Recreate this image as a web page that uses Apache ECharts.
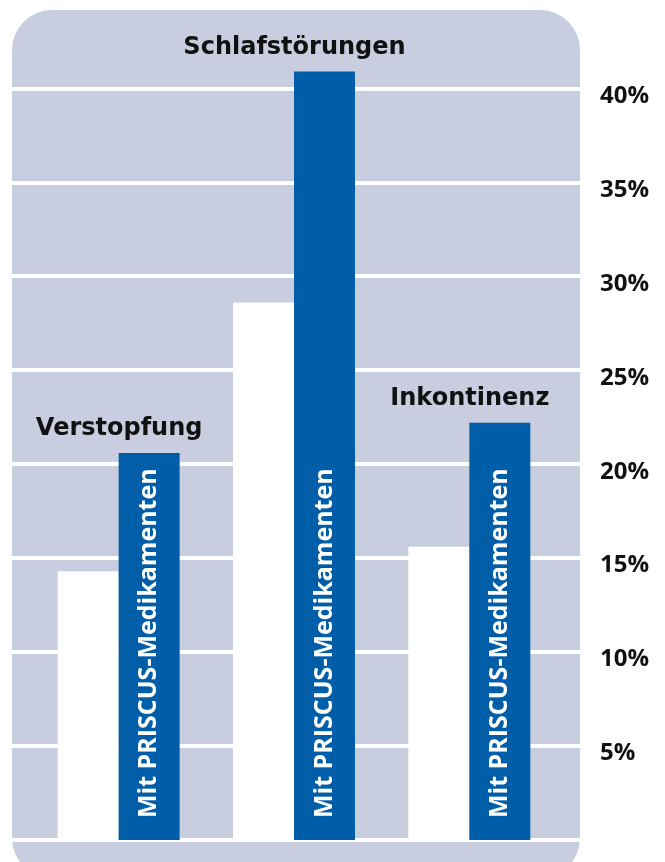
<!DOCTYPE html>
<html>
<head>
<meta charset="utf-8">
<script src="https://cdn.jsdelivr.net/npm/echarts@6/dist/echarts.min.js"></script>
<style>
  html, body { margin: 0; padding: 0; background: #fff; }
  #chart { width: 665px; height: 862px; }
</style>
</head>
<body>
<div id="chart"></div>
<script>
// Werte in Prozent
const categories = ["Verstopfung", "Schlafstörungen", "Inkontinenz"];
const ohnePriscus = [14.3, 28.6, 15.6];
const mitPriscus = [20.6, 40.9, 22.2];
const barText = "Mit PRISCUS-Medikamenten";
const yMax = 44.7;
const yStep = 5;
const lastTick = 40;

const FONT = "'Open Sans', 'Noto Sans', sans-serif";
const TITLE_FONT = "'DejaVu Sans', 'Open Sans', sans-serif";
const PANEL = "#c8cee0";
const BLUE = "#005da8";

const myChart = echarts.init(document.getElementById("chart"));

const option = {
  animation: false,
  backgroundColor: "#fff",
  graphic: [
    {
      type: "rect",
      z: -10,
      shape: { x: 12, y: 10, width: 568, height: 868, r: 40 },
      style: { fill: PANEL }
    }
  ],
  grid: [
    { left: 12, right: 85, top: 0, bottom: 22 },
    { left: 31, right: 108, top: 0, bottom: 22 }
  ],
  xAxis: [
    { gridIndex: 0, type: "value", show: false },
    { gridIndex: 1, type: "category", data: categories, show: false }
  ],
  yAxis: [
    {
      gridIndex: 0,
      type: "value",
      position: "right",
      min: 0,
      max: yMax,
      interval: yStep,
      axisLine: { show: false },
      axisTick: { show: false },
      splitLine: { show: true, showMaxLine: false, lineStyle: { color: "#fff", width: 4 } },
      axisLabel: {
        margin: 20,
        verticalAlign: "top",
        lineHeight: 15,
        fontFamily: FONT,
        fontWeight: "bold",
        fontSize: 24,
        color: "#111",
        formatter: (v) => (v > 0 && v <= lastTick ? v + "%" : "")
      }
    },
    { gridIndex: 1, type: "value", min: 0, max: yMax, show: false }
  ],
  series: [
    {
      name: "Ohne PRISCUS-Medikamente",
      type: "bar",
      xAxisIndex: 1,
      yAxisIndex: 1,
      barWidth: 61,
      barGap: 0,
      data: ohnePriscus,
      itemStyle: { color: "#fff" }
    },
    {
      name: "Mit PRISCUS-Medikamenten",
      type: "bar",
      xAxisIndex: 1,
      yAxisIndex: 1,
      stack: "mit",
      barWidth: 61,
      data: mitPriscus,
      itemStyle: { color: BLUE },
      label: {
        show: true,
        position: "insideBottom",
        rotate: 90,
        align: "left",
        verticalAlign: "middle",
        distance: 22,
        formatter: barText,
        fontFamily: FONT,
        fontWeight: "bold",
        fontSize: 25,
        color: "#fff"
      }
    },
    {
      // nur für die Kategorietitel über den Balken
      name: "titel",
      type: "bar",
      xAxisIndex: 1,
      yAxisIndex: 1,
      stack: "mit",
      barWidth: 61,
      data: categories.map(() => 0),
      itemStyle: { color: "transparent" },
      label: {
        show: true,
        position: "top",
        distance: 12,
        offset: [-30, 0],
        formatter: "{b}",
        fontFamily: TITLE_FONT,
        fontWeight: "bold",
        fontSize: 24,
        color: "#111"
      }
    }
  ]
};

myChart.setOption(option);
</script>
</body>
</html>
